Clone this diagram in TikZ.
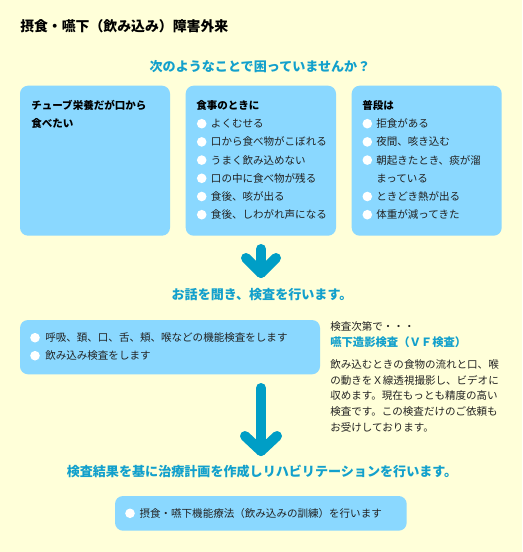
\documentclass[tikz,border=0pt]{standalone}
\usepackage{fontspec}
\setmainfont{Noto Sans CJK JP}
\usetikzlibrary{positioning}
\definecolor{bgyellow}{RGB}{255,255,217}
\definecolor{boxblue}{RGB}{138,216,255}
\definecolor{headblue}{RGB}{18,160,204}
\definecolor{arrowblue}{RGB}{0,158,198}
\definecolor{textgray}{RGB}{34,34,34}
\newcommand{\titlefont}{\fontsize{10.4pt}{12pt}\selectfont\bfseries}
\newcommand{\headfont}{\fontsize{9.8pt}{12pt}\selectfont\bfseries}
\newcommand{\bodyfont}{\fontsize{7.9pt}{10pt}\selectfont}

\begin{document}
\begin{tikzpicture}[x=0.75pt,y=-0.75pt,
  panel/.style={fill=boxblue,rounded corners=6pt},
  head/.style={font=\headfont,text=headblue,inner sep=0pt},
  txt/.style={anchor=west,font=\bodyfont,text=textgray,inner sep=0pt},
  btxt/.style={txt,font=\bodyfont\bfseries,text=black},
  dot/.style={fill=white},
  bigarrow/.style={draw=arrowblue,line width=7.5pt,line cap=round,line join=round}]
\useasboundingbox[fill=bgyellow] (0,0) rectangle (522,552);

\node[anchor=west,inner sep=0pt,font=\titlefont] (T0) at (20,26.7) {摂食・嚥下（飲み込み）障害外来};
\node[head] (H1) at (260,66.7) {次のようなことで困っていませんか？};

% three boxes
\path[panel] (20,85.7) rectangle (170,235.7);
\path[panel] (185.7,85.7) rectangle (336,235.7);
\path[panel] (351.7,85.7) rectangle (501.7,235.7);

\node[btxt] (A0) at (31,105.5) {チューブ栄養だが口から};
\node[btxt] (A1) at (31,123.7) {食べたい};

\node[btxt] (B0) at (196,105.5) {食事のときに};
\fill[dot] (201.7,123.7) circle (4.8);
\node[txt] (B1) at (210.7,123.7) {よくむせる};
\fill[dot] (201.7,141.9) circle (4.8);
\node[txt] (B2) at (210.7,141.9) {口から食べ物がこぼれる};
\fill[dot] (201.7,160.1) circle (4.8);
\node[txt] (B3) at (210.7,160.1) {うまく飲み込めない};
\fill[dot] (201.7,178.3) circle (4.8);
\node[txt] (B4) at (210.7,178.3) {口の中に食べ物が残る};
\fill[dot] (201.7,196.5) circle (4.8);
\node[txt] (B5) at (210.7,196.5) {食後、咳が出る};
\fill[dot] (201.7,214.7) circle (4.8);
\node[txt] (B6) at (210.7,214.7) {食後、しわがれ声になる};

\node[btxt] (C0) at (362,105.5) {普段は};
\fill[dot] (367.3,123.7) circle (4.8);
\node[txt] (C1) at (376,123.7) {拒食がある};
\fill[dot] (367.3,141.9) circle (4.8);
\node[txt] (C2) at (376,141.9) {夜間、咳き込む};
\fill[dot] (367.3,160.1) circle (4.8);
\node[txt] (C3) at (376,160.1) {朝起きたとき、痰が溜};
\node[txt] (C4) at (376,178.3) {まっている};
\fill[dot] (367.3,196.5) circle (4.8);
\node[txt] (C5) at (376,196.5) {ときどき熱が出る};
\fill[dot] (367.3,214.7) circle (4.8);
\node[txt] (C6) at (376,214.7) {体重が減ってきた};

% first arrow
\coordinate (P1) at (261,249);
\coordinate (P2) at (261,273);
\draw[bigarrow] (P1) -- (P2);
\draw[bigarrow] (P2) ++(-15,-15) -- (P2) -- ++(15,-15);

\node[head] (H2) at (262,294.3) {お話を聞き、検査を行います。};

\path[panel] (20,320) rectangle (320,374.3);
\fill[dot] (35,337.7) circle (4.8);
\node[txt] (D1) at (45,337.7) {呼吸、頚、口、舌、頬、喉などの機能検査をします};
\fill[dot] (35,355.7) circle (4.8);
\node[txt] (D2) at (45,355.7) {飲み込み検査をします};

\node[txt] (E0) at (330,326) {検査次第で・・・};
\node[txt,font=\fontsize{8.5pt}{10pt}\selectfont\bfseries,text=headblue] (E1) at (330,342) {嚥下造影検査（ＶＦ検査）};
\node[txt] (E2) at (330,364.5) {飲み込むときの食物の流れと口、喉};
\node[txt] (E3) at (330,380.2) {の動きをＸ線透視撮影し、ビデオに};
\node[txt] (E4) at (330,395.9) {収めます。現在もっとも精度の高い};
\node[txt] (E5) at (330,411.6) {検査です。この検査だけのご依頼も};
\node[txt] (E6) at (330,427.3) {お受けしております。};

% second arrow
\coordinate (P3) at (261,388);
\coordinate (P4) at (261,451);
\draw[bigarrow] (P3) -- (P4);
\draw[bigarrow] (P4) ++(-16,-15) -- (P4) -- ++(16,-15);

\node[head] (H3) at (262,471.7) {検査結果を基に治療計画を作成しリハビリテーションを行います。};

\path[panel] (115,496) rectangle (406.7,530.7);
\fill[dot] (130,513.3) circle (4.8);
\node[txt] (F1) at (139.3,513.3) {摂食・嚥下機能療法（飲み込みの訓練）を行います};
\end{tikzpicture}
\end{document}
